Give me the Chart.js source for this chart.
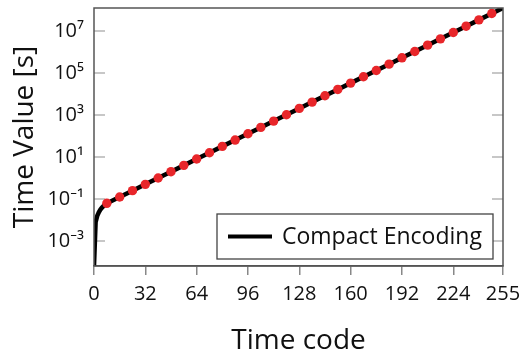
<!DOCTYPE html>
<html>
<head>
<meta charset="utf-8">
<script src="https://cdn.jsdelivr.net/npm/chart.js@4"></script>
<style>
  html, body { margin: 0; padding: 0; background: #fff; }
  #wrap { width: 524px; height: 352px; }
</style>
</head>
<body>
<div id="wrap"><canvas id="timeChart" width="524" height="352"></canvas></div>
<script>
// time codes and decoded values for the black curve (code 0 sits on the floor of the axis)
const lineCodes = [0, 1, 2, 3, 4, 5, 6, 7, 8, 16, 24, 32, 40, 48, 56, 64, 72, 80, 88, 96,
    104, 112, 120, 128, 136, 144, 152, 160, 168, 176, 184, 192, 200, 208, 216, 224,
    232, 240, 248, 255];
const lineValues = [6.5e-5, 0.0078125, 0.015625, 0.0234375, 0.03125, 0.0390625, 0.046875, 0.0546875,
    0.0625, 0.125, 0.25, 0.5, 1, 2, 4, 8, 16, 32, 64, 128,
    256, 512, 1024, 2048, 4096, 8192, 16384, 32768, 65536, 131072, 262144, 524288,
    1048576, 2097152, 4194304, 8388608, 16777216, 33554432, 67108864, 123078327];

// red markers
const dotCodes = [8, 16, 24, 32, 40, 48, 56, 64, 72, 80, 88, 96, 104, 112, 120, 128,
    136, 144, 152, 160, 168, 176, 184, 192, 200, 208, 216, 224, 232, 240, 248];
const dotValues = [0.0625, 0.125, 0.25, 0.5, 1, 2, 4, 8, 16, 32, 64, 128, 256, 512, 1024, 2048,
    4096, 8192, 16384, 32768, 65536, 131072, 262144, 524288, 1048576, 2097152, 4194304,
    8388608, 16777216, 33554432, 67108864];

const xTicks = [0, 32, 64, 96, 128, 160, 192, 224, 255];
const yTicks = [1e-3, 1e-1, 1e1, 1e3, 1e5, 1e7];
const yTickLabels = ['10⁻³', '10⁻¹', '10¹', '10³', '10⁵', '10⁷'];

const FONT = '"Open Sans", "Noto Sans", sans-serif';

// frame, inner ticks and the legend box inside the plot
const framePlugin = {
    id: 'frame',
    beforeDatasetsDraw(chart) {
        const { ctx, chartArea: a, scales: { y } } = chart;
        ctx.save();
        ctx.strokeStyle = '#b5b5b5';
        ctx.lineWidth = 1.5;
        y.ticks.forEach(t => {
            const py = y.getPixelForValue(t.value);
            ctx.beginPath();
            ctx.moveTo(a.left, py); ctx.lineTo(a.left + 11, py);
            ctx.moveTo(a.right, py); ctx.lineTo(a.right - 11, py);
            ctx.stroke();
        });
        ctx.restore();
    },
    afterDatasetsDraw(chart) {
        const { ctx, chartArea: a } = chart;
        ctx.save();
        ctx.strokeStyle = '#555';
        ctx.lineWidth = 1.5;
        ctx.strokeRect(a.left, a.top, a.right - a.left, a.bottom - a.top);

        // legend
        const ds = chart.data.datasets[0];
        const bx = a.right - 286, by = a.bottom - 52, bw = 276, bh = 45;
        ctx.fillStyle = '#fff';
        ctx.fillRect(bx, by, bw, bh);
        ctx.strokeStyle = '#444';
        ctx.lineWidth = 1.3;
        ctx.strokeRect(bx, by, bw, bh);
        ctx.strokeStyle = ds.borderColor;
        ctx.lineWidth = 4;
        ctx.beginPath();
        ctx.moveTo(bx + 11, by + bh / 2);
        ctx.lineTo(bx + 55, by + bh / 2);
        ctx.stroke();
        ctx.fillStyle = '#111';
        ctx.font = '23px ' + FONT;
        ctx.textBaseline = 'middle';
        ctx.fillText(ds.label, bx + 65, by + bh / 2 + 1);
        ctx.restore();
    }
};

const ctx = document.getElementById('timeChart').getContext('2d');

new Chart(ctx, {
    type: 'line',
    data: {
        datasets: [{
            label: 'Compact Encoding',
            data: lineCodes.map((c, i) => ({ x: c, y: lineValues[i] })),
            borderColor: '#000',
            borderWidth: 4.5,
            pointRadius: 0,
            tension: 0,
            order: 2
        }, {
            label: 'markers',
            data: dotCodes.map((c, i) => ({ x: c, y: dotValues[i] })),
            showLine: false,
            pointRadius: 4.7,
            pointBackgroundColor: '#e8262a',
            pointBorderWidth: 0,
            order: 1
        }]
    },
    options: {
        responsive: false,
        animation: false,
        layout: { padding: { left: 0, right: 21, top: 8, bottom: 0 } },
        plugins: {
            legend: { display: false },
            tooltip: { enabled: false }
        },
        scales: {
            x: {
                type: 'linear',
                min: 0,
                max: 255,
                afterBuildTicks: s => { s.ticks = xTicks.map(v => ({ value: v })); },
                afterFit: s => { s.height = 86; s.paddingLeft = 0; s.paddingRight = 0; },
                grid: { drawOnChartArea: false, color: '#888', lineWidth: 1.5, tickLength: 9 },
                border: { color: '#555', width: 1.5 },
                ticks: { color: '#111', font: { family: FONT, size: 20 }, padding: 7, maxRotation: 0 },
                title: { display: true, text: 'Time code', color: '#111',
                    font: { family: FONT, size: 28, lineHeight: 1 }, padding: { top: 0, bottom: -3 } }
            },
            y: {
                type: 'logarithmic',
                min: 6.5e-5,
                max: 123078327,
                afterBuildTicks: s => { s.ticks = yTicks.map(v => ({ value: v })); },
                afterFit: s => { s.width = 94; s.paddingTop = 0; s.paddingBottom = 0; },
                grid: { display: false, drawTicks: false },
                border: { display: false },
                ticks: {
                    color: '#111', font: { family: FONT, size: 20 }, padding: 10,
                    callback: v => yTickLabels[yTicks.indexOf(v)]
                },
                title: { display: true, text: 'Time Value [s]', color: '#111',
                    font: { family: FONT, size: 28, lineHeight: 1 }, padding: 11 }
            }
        }
    },
    plugins: [framePlugin]
});
</script>
</body>
</html>
